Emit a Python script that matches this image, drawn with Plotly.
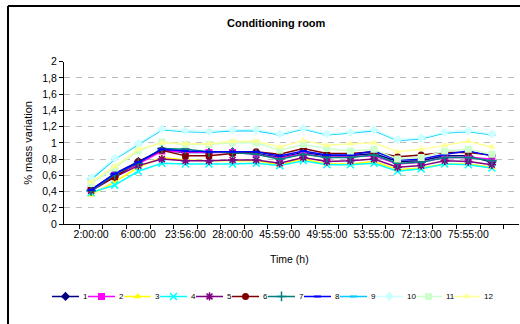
import plotly.graph_objects as go

# ---------------- data ----------------
times = ["2:00:00", "4:00:00", "6:00:00", "21:56:00", "23:56:00", "25:58:00",
         "28:00:00", "30:00:00", "45:59:00", "47:57:00", "49:55:00", "51:55:00",
         "53:55:00", "70:13:00", "72:13:00", "74:04:00", "75:55:00", "77:55:00"]

s1 = [0.42, 0.62, 0.77, 0.91, 0.88, 0.88, 0.89, 0.87, 0.82, 0.88, 0.84, 0.84, 0.87, 0.77, 0.78, 0.84, 0.84, 0.76]
s2 = [0.43, 0.60, 0.74, 0.90, 0.89, 0.88, 0.88, 0.86, 0.81, 0.87, 0.82, 0.83, 0.84, 0.74, 0.76, 0.82, 0.82, 0.80]
s3 = [0.36, 0.52, 0.70, 0.82, 0.79, 0.78, 0.78, 0.78, 0.73, 0.80, 0.74, 0.74, 0.77, 0.67, 0.69, 0.74, 0.74, 0.70]
s4 = [0.39, 0.48, 0.65, 0.75, 0.74, 0.74, 0.74, 0.75, 0.72, 0.78, 0.73, 0.73, 0.75, 0.65, 0.68, 0.74, 0.73, 0.69]
s5 = [0.41, 0.58, 0.72, 0.80, 0.78, 0.78, 0.79, 0.79, 0.75, 0.82, 0.77, 0.78, 0.80, 0.70, 0.72, 0.78, 0.77, 0.73]
s6 = [0.43, 0.58, 0.77, 0.91, 0.84, 0.84, 0.87, 0.89, 0.86, 0.93, 0.87, 0.87, 0.89, 0.83, 0.85, 0.88, 0.88, 0.85]
s7 = [0.41, 0.61, 0.75, 0.93, 0.92, 0.89, 0.88, 0.86, 0.80, 0.86, 0.82, 0.82, 0.85, 0.75, 0.76, 0.82, 0.82, 0.78]
s8 = [0.42, 0.62, 0.76, 0.92, 0.90, 0.89, 0.89, 0.89, 0.84, 0.90, 0.85, 0.85, 0.90, 0.79, 0.80, 0.86, 0.90, 0.84]
s9 = [0.55, 0.80, 0.98, 1.16, 1.14, 1.13, 1.15, 1.15, 1.10, 1.17, 1.10, 1.12, 1.15, 1.03, 1.05, 1.12, 1.14, 1.10]
s10 = [0.57, 0.81, 0.99, 1.17, 1.15, 1.14, 1.16, 1.16, 1.11, 1.18, 1.11, 1.13, 1.16, 1.04, 1.06, 1.13, 1.15, 1.11]
s11 = [0.50, 0.69, 0.90, 1.01, 0.98, 0.98, 1.00, 1.00, 0.91, 0.98, 0.93, 0.90, 0.92, 0.80, 0.82, 0.90, 0.92, 0.86]
s12 = [0.52, 0.71, 0.92, 1.00, 0.99, 0.99, 1.02, 1.02, 0.95, 1.03, 0.97, 0.99, 1.00, 0.89, 0.92, 0.97, 1.02, 0.95]

series_names = ["1", "2", "3", "4", "5", "6", "7", "8", "9", "10", "11", "12"]
series_values = [s1, s2, s3, s4, s5, s6, s7, s8, s9, s10, s11, s12]

title_text = "Conditioning room"
x_title = "Time (h)"
y_title = "% mass variation"

# ---------------- styles ----------------
colors = ["#000080", "#FF00FF", "#FFFF00", "#00FFFF", "#800080", "#800000",
          "#008080", "#0000FF", "#00CCFF", "#CCFFFF", "#CCFFCC", "#FFFF99"]
symbols = ["diamond", "square", "triangle-up", "x-thin-open", "asterisk-open", "circle",
           "cross-thin-open", "line-ew-open", "line-ew-open", "diamond", "square", "triangle-up"]
sizes = [7, 7, 7, 7, 7, 7, 7, 5, 5, 7, 7, 7]

FONT = "Liberation Sans, Arial, sans-serif"
W, H = 520, 324
ML, MT = 8, 6
PW, PH = W - ML - 1, H - MT


def px_x(p):
    return (p - ML) / PW


def px_y(p):
    return (H - p) / PH


fig = go.Figure()

for name, vals, c, sym, sz in zip(series_names, series_values, colors, symbols, sizes):
    fig.add_trace(go.Scatter(
        x=times, y=vals, name=name, mode="lines+markers",
        line=dict(color=c, width=1.5),
        marker=dict(symbol=sym, size=sz, color=c,
                    line=dict(color=c, width=(2 if sym.startswith("line") else 1.5) if sym.endswith("open") else 0)),
        showlegend=False, xaxis="x", yaxis="y",
    ))

# custom legend row drawn on a helper axis in pixel units
legend_starts = [52, 88, 124, 160, 196, 232, 268, 304, 340, 376, 415, 453]
for name, c, sym, sz, s0 in zip(series_names, colors, symbols, sizes, legend_starts):
    fig.add_trace(go.Scatter(x=[s0, s0 + 27], y=[0, 0], mode="lines",
                             line=dict(color=c, width=1.5), showlegend=False,
                             xaxis="x2", yaxis="y2", hoverinfo="skip"))
    fig.add_trace(go.Scatter(x=[s0 + 13.5], y=[0], mode="markers",
                             marker=dict(symbol=sym, size=sz, color=c,
                                         line=dict(color=c, width=(2 if sym.startswith("line") else 1.5) if sym.endswith("open") else 0)),
                             showlegend=False, xaxis="x2", yaxis="y2", hoverinfo="skip"))
    fig.add_annotation(x=s0 + 29, y=0, xref="x2", yref="y2", text=name, showarrow=False,
                       xanchor="left", yanchor="middle", font=dict(family=FONT, size=8, color="#000"))

fig.update_layout(
    width=W, height=H,
    margin=dict(l=ML, r=1, t=MT, b=0),
    paper_bgcolor="white", plot_bgcolor="white",
    separators=",.",
    showlegend=False,
    xaxis=dict(
        type="category", domain=[px_x(64), 1], anchor="y",
        tickvals=times, ticktext=[t if i % 2 == 0 else "" for i, t in enumerate(times)],
        tickson="boundaries", ticks="outside", ticklen=4, tickcolor="#000", tickwidth=1,
        showline=True, linecolor="#000", linewidth=1, showgrid=False, zeroline=False,
        tickfont=dict(family=FONT, size=10.5, color="#000"), tickangle=0,
    ),
    yaxis=dict(
        domain=[px_y(228.3), px_y(62.7)], anchor="x", range=[0, 2], dtick=0.2,
        ticks="outside", ticklen=4, tickcolor="#000", tickwidth=1,
        showline=True, linecolor="#000", linewidth=1,
        showgrid=True, gridcolor="#BDBDBD", griddash="6px,6px", gridwidth=1,
        zeroline=False,
        tickfont=dict(family=FONT, size=10.5, color="#000"),
    ),
    xaxis2=dict(domain=[0, 1], range=[ML, ML + PW], anchor="y2", visible=False, fixedrange=True),
    yaxis2=dict(domain=[px_y(310), px_y(294)], range=[-1, 1], anchor="x2", visible=False, fixedrange=True),
)

fig.add_annotation(x=px_x(276.5), y=px_y(23), xref="paper", yref="paper", text="<b>" + title_text + "</b>",
                   showarrow=False, xanchor="center", yanchor="middle", font=dict(family=FONT, size=11, color="#000"))
fig.add_annotation(x=px_x(289), y=px_y(264), xref="paper", yref="paper", text=x_title,
                   showarrow=False, xanchor="center", yanchor="middle", font=dict(family=FONT, size=10.5, color="#000"))
fig.add_annotation(x=px_x(28), y=px_y(145.5), xref="paper", yref="paper", text=y_title, textangle=-90,
                   showarrow=False, xanchor="center", yanchor="middle", font=dict(family=FONT, size=11, color="#000"))

# chart-area border (left and top edges visible; cropped on right/bottom)
fig.add_shape(type="line", xref="paper", yref="paper", x0=0, x1=0, y0=-0.1, y1=1,
              line=dict(color="#000", width=2))
fig.add_shape(type="line", xref="paper", yref="paper", x0=0, x1=1.1, y0=1, y1=1,
              line=dict(color="#000", width=2))

fig.write_html("out.html", config={"displayModeBar": False},
               post_script="document.body.style.margin='0';document.body.style.overflow='hidden';")
